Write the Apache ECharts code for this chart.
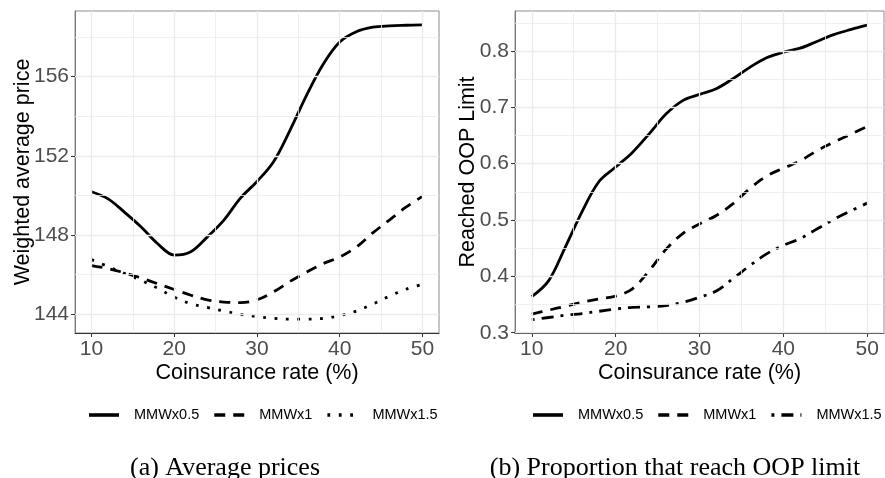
<!DOCTYPE html>
<html>
<head>
<meta charset="utf-8">
<script src="https://cdn.jsdelivr.net/npm/echarts@6/dist/echarts.min.js"></script>
<style>
  html, body { margin: 0; padding: 0; background: #fff; }
  #chart { width: 885px; height: 478px; }
</style>
</head>
<body>
<div id="chart"></div>
<script>
// Coinsurance rate (%) at which each curve is evaluated
const coinsurance = [10, 12, 14, 16, 18, 20, 22, 24, 26, 28, 30, 32, 34, 36, 38, 40, 42, 44, 46, 48, 50];
const scenarioNames = ['MMWx0.5', 'MMWx1', 'MMWx1.5'];

// Panel (a): weighted average price
const priceHalf    = [150.18, 149.82, 149.14, 148.4, 147.55, 146.98, 147.15, 147.9, 148.75, 149.86, 150.7, 151.7, 153.3, 155.07, 156.63, 157.75, 158.27, 158.5, 158.57, 158.6, 158.62];
const priceOne     = [146.45, 146.3, 146.08, 145.82, 145.53, 145.24, 144.95, 144.72, 144.6, 144.58, 144.72, 145.12, 145.65, 146.12, 146.55, 146.88, 147.38, 148.1, 148.75, 149.4, 149.95];
const priceOneHalf = [146.75, 146.4, 146.05, 145.7, 145.3, 144.85, 144.52, 144.33, 144.15, 143.98, 143.87, 143.78, 143.74, 143.74, 143.78, 143.92, 144.15, 144.5, 144.9, 145.25, 145.5];

// Panel (b): share reaching the out-of-pocket limit
const oopHalf    = [0.364, 0.392, 0.452, 0.515, 0.568, 0.594, 0.62, 0.653, 0.688, 0.712, 0.723, 0.733, 0.751, 0.771, 0.788, 0.798, 0.805, 0.817, 0.829, 0.838, 0.846];
const oopOne     = [0.333, 0.340, 0.347, 0.354, 0.360, 0.365, 0.378, 0.41, 0.448, 0.476, 0.493, 0.508, 0.529, 0.556, 0.578, 0.592, 0.605, 0.623, 0.638, 0.652, 0.666];
const oopOneHalf = [0.323, 0.327, 0.331, 0.334, 0.338, 0.342, 0.345, 0.346, 0.348, 0.354, 0.363, 0.374, 0.396, 0.419, 0.440, 0.455, 0.467, 0.484, 0.501, 0.516, 0.530];

// Tick positions and grid breaks
const xTicks = [10, 20, 30, 40, 50];
const xMinor = [15, 25, 35, 45];
const priceTicks = [144, 148, 152, 156];
const priceMinor = [146, 150, 154, 158];
const oopTicks = [0.3, 0.4, 0.5, 0.6, 0.7, 0.8];
const oopMinor = [0.35, 0.45, 0.55, 0.65, 0.75, 0.85];

const captions = ['(a) Average prices', '(b) Proportion that reach OOP limit'];

const SANS = '"Liberation Sans", Arial, sans-serif';
const SERIF = '"Liberation Serif", "Times New Roman", serif';
const GRID_COLOR = '#ebebeb';
const LINE_WIDTH = 2.8;
const DASH = {
  solid: null,
  dashed: [11, 8],
  dotted: [2.8, 8.6],
  dotdash: [3, 7, 12, 7]
};

function curve(name, panel, ys, dash) {
  return {
    name: name,
    type: 'line',
    xAxisIndex: panel,
    yAxisIndex: panel,
    data: coinsurance.map((x, i) => [x, ys[i]]),
    smooth: 0.35,
    symbol: 'none',
    showSymbol: false,
    silent: true,
    animation: false,
    z: 3,
    itemStyle: { color: '#000' },
    lineStyle: { color: '#000', width: LINE_WIDTH, type: dash || 'solid', cap: 'butt', join: 'round' }
  };
}

// Background grid drawn as mark lines through the axis scales
function gridLines(panel, yMajor, yMinor) {
  const item = (key, v, w) => ({ [key]: v, lineStyle: { color: GRID_COLOR, width: w, type: 'solid' } });
  return {
    type: 'line',
    xAxisIndex: panel,
    yAxisIndex: panel,
    data: [],
    symbol: 'none',
    silent: true,
    animation: false,
    z: 1,
    markLine: {
      silent: true,
      animation: false,
      symbol: ['none', 'none'],
      label: { show: false },
      emphasis: { disabled: true },
      data: [
        ...xMinor.map(v => item('xAxis', v, 0.8)),
        ...yMinor.map(v => item('yAxis', v, 0.8)),
        ...xTicks.map(v => item('xAxis', v, 1.3)),
        ...yMajor.map(v => item('yAxis', v, 1.3))
      ]
    }
  };
}

function xAxisFor(panel) {
  return {
    type: 'value',
    gridIndex: panel,
    min: 8,
    max: 52,
    name: 'Coinsurance rate (%)',
    nameLocation: 'middle',
    nameGap: 29,
    nameMoveOverlap: false,
    nameTextStyle: { fontFamily: SANS, fontSize: 21.5, color: '#000' },
    axisLine: { show: true, onZero: false, lineStyle: { color: '#333', width: 1 } },
    axisTick: { show: true, customValues: xTicks, length: 4, lineStyle: { color: '#333', width: 1 } },
    axisLabel: { customValues: xTicks, fontFamily: SANS, fontSize: 21, color: '#4d4d4d', margin: 6 },
    splitLine: { show: false }
  };
}

function yAxisFor(panel, title, min, max, ticks, fmt, gap) {
  return {
    type: 'value',
    gridIndex: panel,
    min: min,
    max: max,
    name: title,
    nameLocation: 'middle',
    nameGap: gap,
    nameMoveOverlap: false,
    nameTextStyle: { fontFamily: SANS, fontSize: 21.5, color: '#000' },
    axisLine: { show: true, onZero: false, lineStyle: { color: '#7a7a7a', width: 1 } },
    axisTick: { show: true, customValues: ticks, length: 4, lineStyle: { color: '#333', width: 1 } },
    axisLabel: { customValues: ticks, formatter: fmt, fontFamily: SANS, fontSize: 21, color: '#4d4d4d', margin: 6 },
    splitLine: { show: false }
  };
}

// Legend row: key line, 15px gap, label, 15px gap to the next key
const LEGEND_FONT = '14.5px "Liberation Sans", Arial, sans-serif';
const measureCtx = document.createElement('canvas').getContext('2d');
measureCtx.font = LEGEND_FONT;

function legendRow(startX, centerY, dashes) {
  const children = [];
  let x = startX;
  scenarioNames.forEach((name, i) => {
    children.push({
      type: 'line',
      silent: true,
      shape: { x1: x, y1: centerY, x2: x + 30, y2: centerY },
      style: { stroke: '#000', lineWidth: 3.6, lineDash: dashes[i], lineCap: 'butt' }
    });
    x += 45;
    children.push({
      type: 'text',
      silent: true,
      x: x,
      y: centerY,
      style: { text: name, font: LEGEND_FONT, fill: '#000', verticalAlign: 'middle', align: 'left' }
    });
    x += measureCtx.measureText(name).width + 15;
  });
  return { type: 'group', children: children };
}

const chart = echarts.init(document.getElementById('chart'), null, { renderer: 'canvas' });

chart.setOption({
  backgroundColor: '#fff',
  animation: false,
  title: captions.map((text, i) => ({
    text: text,
    left: i === 0 ? 220 : 670,
    top: 450,
    textAlign: 'center',
    textStyle: { fontFamily: SERIF, fontSize: 26, fontWeight: 'normal', color: '#000' }
  })),
  graphic: [
    legendRow(89, 415, [DASH.solid, DASH.dashed, DASH.dotted]),
    legendRow(533, 415, [DASH.solid, DASH.dashed, DASH.dotdash])
  ],
  grid: [
    { left: 75, top: 11, width: 364, height: 322, show: true, borderColor: '#8c8c8c', borderWidth: 1, backgroundColor: 'transparent' },
    { left: 515, top: 11, width: 369, height: 322, show: true, borderColor: '#8c8c8c', borderWidth: 1, backgroundColor: 'transparent' }
  ],
  xAxis: [xAxisFor(0), xAxisFor(1)],
  yAxis: [
    yAxisFor(0, 'Weighted average price', 143.04, 159.32, priceTicks, v => String(v), 41),
    yAxisFor(1, 'Reached OOP Limit', 0.2995, 0.871, oopTicks, v => v.toFixed(1), 36)
  ],
  series: [
    gridLines(0, priceTicks, priceMinor),
    gridLines(1, oopTicks, oopMinor),
    curve(scenarioNames[0], 0, priceHalf, DASH.solid),
    curve(scenarioNames[1], 0, priceOne, DASH.dashed),
    curve(scenarioNames[2], 0, priceOneHalf, DASH.dotted),
    curve(scenarioNames[0], 1, oopHalf, DASH.solid),
    curve(scenarioNames[1], 1, oopOne, DASH.dashed),
    curve(scenarioNames[2], 1, oopOneHalf, DASH.dotdash)
  ]
});
</script>
</body>
</html>
